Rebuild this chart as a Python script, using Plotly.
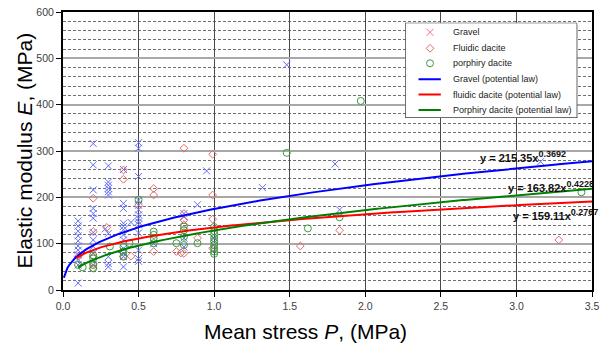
import numpy as np
import plotly.graph_objects as go

# ---------------- data ----------------
gravel_p = [0.1]*11 + [0.2]*12 + [0.28] + [0.3]*10 + [0.4]*12 + [0.45] + [0.5]*14 + [0.6] + [0.8]*4 + [0.89, 0.95, 1.0, 1.0, 1.32, 1.48, 1.80, 1.83, 3.16]
gravel_e = [149, 138, 127, 117, 106, 95, 86, 76, 66, 54, 15,
            316, 270, 216, 176, 165, 155, 124, 108, 94, 79, 65, 54,
            132,
            268, 233, 226, 219, 212, 205, 122, 72, 57, 50,
            260, 187, 176, 144, 137, 130, 119, 108, 90, 79, 72, 50,
            146,
            318, 306, 245, 194, 183, 173, 162, 155, 147, 141, 123, 86, 68, 62,
            100,
            165, 158, 112, 93,
            184, 257, 112, 97, 221, 486, 272, 173, 277]

fluidic_p = [0.1] + [0.2]*5 + [0.29] + [0.4]*3 + [0.45, 0.5] + [0.6]*3 + [0.75, 0.78] + [0.8]*5 + [0.89] + [0.99]*4 + [1.57, 1.83, 3.28]
fluidic_e = [72, 198, 126, 72, 57, 47, 135, 259, 239, 73, 73, 183, 219, 205, 83, 83, 80,
             306, 165, 151, 141, 79, 112, 293, 205, 153, 90, 95, 129, 108]

porph_p = [0.1, 0.13] + [0.2]*4 + [0.31] + [0.4]*3 + [0.44, 0.5] + [0.6]*4 + [0.75] + [0.8]*4 + [0.89] + [1.0]*9 + [1.48, 1.62, 1.83, 1.97, 3.43]
porph_e = [54, 49, 75, 68, 54, 47, 94, 93, 83, 72, 101, 195, 126, 119, 112, 101, 101,
           137, 129, 115, 97, 101, 136, 127, 120, 112, 105, 97, 90, 83, 78,
           296, 133, 157, 408, 211]

# power-law trend lines as drawn (E = a * P^b)
fit_names = ["Gravel (potential law)", "fluidic dacite (potential law)", "Porphiry dacite (potential law)"]
fit_a = [175.0, 135.0, 128.6]
fit_b = [0.3692, 0.2767, 0.4228]
fit_start = [0.006, 0.09, 0.10]
fit_end = 3.5
fit_coef_text = ["215.35", "163.82", "159.11"]
fit_exp_text = ["0.3692", "0.4228", "0.2767"]
fit_label_pos = [(2.745, 289), (2.929, 224), (2.962, 163)]

scatter_names = ["Gravel", "Fluidic dacite", "porphiry dacite"]
x_ticks = [0.0, 0.5, 1.0, 1.5, 2.0, 2.5, 3.0, 3.5]
y_ticks = [0, 100, 200, 300, 400, 500, 600]

# ---------------- styles ----------------
c_grav, c_flu, c_por = "#5858d6", "#e06a6a", "#3f9a3f"
line_cols = ["#0000ff", "#ff0000", "#008000"]
arial = "Liberation Sans, Arial"

fig = go.Figure()
fig.add_trace(go.Scatter(x=gravel_p, y=gravel_e, mode="markers", name=scatter_names[0],
                         marker=dict(symbol="x-thin-open", size=7, line=dict(color=c_grav, width=1)),
                         showlegend=False))
fig.add_trace(go.Scatter(x=fluidic_p, y=fluidic_e, mode="markers", name=scatter_names[1],
                         marker=dict(symbol="diamond-open", size=6, color=c_flu, line=dict(width=1)),
                         showlegend=False))
fig.add_trace(go.Scatter(x=porph_p, y=porph_e, mode="markers", name=scatter_names[2],
                         marker=dict(symbol="circle-open", size=7, color=c_por, line=dict(width=1)),
                         showlegend=False))

for i in range(3):
    xs = np.linspace(fit_start[i], fit_end, 300)
    ys = fit_a[i] * xs ** fit_b[i]
    fig.add_trace(go.Scatter(x=xs, y=ys, mode="lines", name=fit_names[i],
                             line=dict(color=line_cols[i], width=2), showlegend=False))

for coef, ex, (px, py) in zip(fit_coef_text, fit_exp_text, fit_label_pos):
    txt = ("<b>y = " + coef + "x<sup><span style='font-size:9px'>" + ex + "</span></sup></b>")
    fig.add_annotation(x=px, y=py, xref="x", yref="y", text=txt,
                       showarrow=False, xanchor="left", yanchor="middle",
                       font=dict(family=arial, size=11, color="#111111"))

# ---------------- hand-made legend on a hidden subplot ----------------
rows = [0.899, 0.731, 0.574, 0.406, 0.245, 0.084]
fig.add_shape(type="rect", xref="x2", yref="y2", x0=0.0115, x1=1.0115, y0=-0.021, y1=0.979,
              fillcolor="#000000", line=dict(width=0), layer="below")
fig.add_shape(type="rect", xref="x2", yref="y2", x0=0, x1=1, y0=0, y1=1,
              fillcolor="#ffffff", line=dict(color="#000000", width=1), layer="below")
fig.add_trace(go.Scatter(x=[0.144], y=[rows[0]], mode="markers", xaxis="x2", yaxis="y2", showlegend=False,
                         marker=dict(symbol="x-thin-open", size=7, line=dict(color=c_grav, width=1))))
fig.add_trace(go.Scatter(x=[0.144], y=[rows[1]], mode="markers", xaxis="x2", yaxis="y2", showlegend=False,
                         marker=dict(symbol="diamond-open", size=6, color=c_flu, line=dict(width=1))))
fig.add_trace(go.Scatter(x=[0.144], y=[rows[2]], mode="markers", xaxis="x2", yaxis="y2", showlegend=False,
                         marker=dict(symbol="circle-open", size=7, color=c_por, line=dict(width=1))))
for i in range(3):
    fig.add_trace(go.Scatter(x=[0.077, 0.207], y=[rows[3 + i]] * 2, mode="lines", xaxis="x2", yaxis="y2",
                             showlegend=False, line=dict(color=line_cols[i], width=2)))
for name, ry in zip(scatter_names + fit_names, rows):
    fig.add_annotation(x=0.264, y=ry, xref="x2", yref="y2", text=name, showarrow=False,
                       xanchor="left", yanchor="middle", font=dict(family=arial, size=9, color="#222222"))

# ---------------- axis titles ----------------
fig.add_annotation(x=0.459, y=-0.148, xref="paper", yref="paper", text="Mean stress <i>P</i>, (MPa)",
                   showarrow=False, xanchor="center", yanchor="middle",
                   font=dict(family=arial, size=21, color="#000000"))
fig.add_annotation(x=-0.0746, y=0.50, xref="paper", yref="paper", text="Elastic modulus <i>E</i>, (MPa)",
                   showarrow=False, xanchor="center", yanchor="middle", textangle=-90,
                   font=dict(family=arial, size=21, color="#000000"))

fig.update_layout(
    width=605, height=345,
    margin=dict(l=63, r=6, t=12, b=55),
    paper_bgcolor="#ffffff", plot_bgcolor="#ffffff",
    showlegend=False,
    xaxis=dict(range=[0, 3.5], tickvals=x_ticks, ticktext=[f"{v:.1f}" for v in x_ticks],
               showgrid=True, gridcolor="#4a4a4a", gridwidth=1,
               showline=True, linecolor="#000000", linewidth=2, mirror=True,
               ticks="outside", ticklen=5, tickcolor="#000000",
               tickfont=dict(family=arial, size=10.5, color="#404040"), zeroline=False),
    yaxis=dict(range=[0, 600], tickvals=y_ticks,
               showgrid=True, gridcolor="#a8a8a8", gridwidth=2,
               minor=dict(dtick=20, showgrid=True, gridcolor="#707070", gridwidth=1, griddash="3px,2px"),
               showline=True, linecolor="#000000", linewidth=2, mirror=True,
               ticks="outside", ticklen=5, tickcolor="#000000",
               tickfont=dict(family=arial, size=10.5, color="#404040"), zeroline=False),
    xaxis2=dict(domain=[0.647, 0.972], range=[0, 1], anchor="y2", visible=False, fixedrange=True),
    yaxis2=dict(domain=[0.619, 0.9615], range=[0, 1], anchor="x2", visible=False, fixedrange=True),
)

fig.write_html("out.html")
